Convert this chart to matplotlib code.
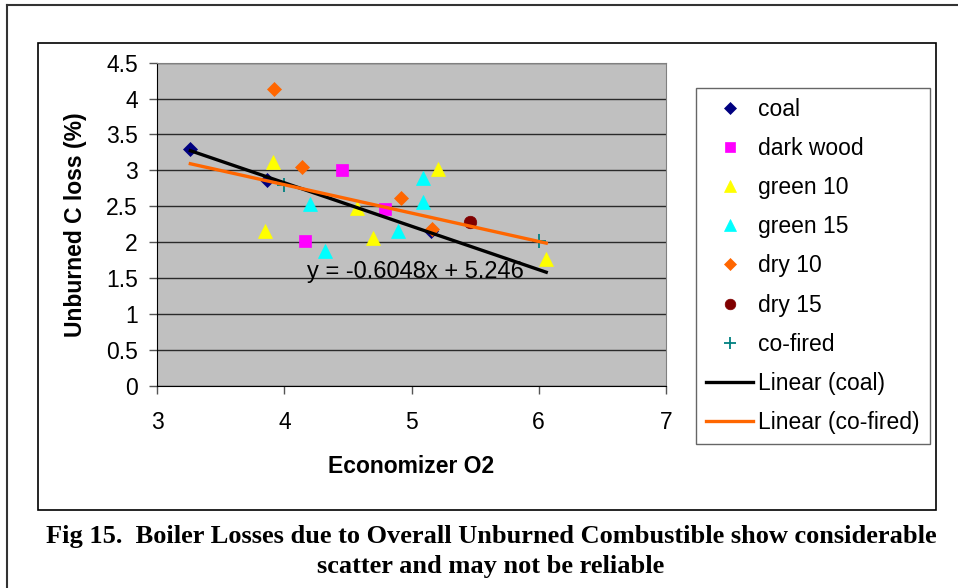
import numpy as np
import matplotlib
matplotlib.use("Agg")
import matplotlib.pyplot as plt
from matplotlib.patches import Rectangle
from matplotlib.lines import Line2D

# Measurements: economizer O2 vs unburned carbon loss (%)
coal_x = [3.26, 3.86, 5.15]
coal_y = [3.30, 2.87, 2.15]
dark_wood_x = [4.45, 4.16, 4.79]
dark_wood_y = [3.00, 2.02, 2.46]
green10_x = [3.91, 3.85, 4.57, 4.70, 5.21, 6.06]
green10_y = [3.12, 2.16, 2.47, 2.06, 3.02, 1.76]
green15_x = [4.20, 4.32, 4.89, 5.09, 5.09]
green15_y = [2.53, 1.88, 2.15, 2.89, 2.56]
dry10_x = [3.92, 4.14, 4.92, 5.16]
dry10_y = [4.14, 3.05, 2.62, 2.18]
dry15_x = [5.46]
dry15_y = [2.28]
cofired_x = [4.00, 6.00]
cofired_y = [2.80, 2.01]

# Linear fit for coal, as given by the equation label
coal_slope, coal_intercept = -0.6048, 5.246
trend_x = np.array([3.26, 6.06])

x_ticks = [3, 4, 5, 6, 7]
y_ticks = [0, 0.5, 1, 1.5, 2, 2.5, 3, 3.5, 4, 4.5]

SANS = "Liberation Sans"
SERIF = "Liberation Serif"
FS = 16.5

W, H = 958, 588
fig = plt.figure(figsize=(W / 100, H / 100), dpi=100)
fig.patch.set_facecolor("white")


def fx(px):
    return px / W


def fy(py):
    return (H - py) / H


# page frame (top and left edges) and chart box
fig.add_artist(Line2D([fx(7), fx(958)], [fy(5), fy(5)], color="#333333", lw=1.5))
fig.add_artist(Line2D([fx(7), fx(7)], [fy(5), fy(588)], color="#333333", lw=1.5))
fig.add_artist(Rectangle((fx(38), fy(510)), fx(936) - fx(38), fy(43) - fy(510),
                         fill=False, edgecolor="black", lw=1.2))

ax = fig.add_axes([fx(157.3), fy(385.7), fx(665.7) - fx(157.3), fy(62.7) - fy(385.7)])
ax.set_facecolor("#C0C0C0")
ax.set_xlim(3, 7)
ax.set_ylim(0, 4.5)
ax.set_xticks(x_ticks)
ax.set_yticks(y_ticks)
ax.set_xticklabels([f"{v:g}" for v in x_ticks], fontsize=FS, family=SANS)
ax.set_yticklabels([f"{v:g}" for v in y_ticks], fontsize=FS, family=SANS)
ax.tick_params(axis="y", direction="out", length=6, width=1, color="#555555", pad=8)
ax.tick_params(axis="x", direction="out", length=6, width=1, color="#555555", pad=12)
for s in ("top", "right"):
    ax.spines[s].set_color("#808080")
for s in ("left", "bottom"):
    ax.spines[s].set_color("black")
ax.grid(axis="y", color="#2a2a2a", lw=1)
ax.set_axisbelow(True)

ax.set_xlabel("Economizer O2", fontsize=FS, family=SANS, fontweight="bold", labelpad=15)
ax.set_ylabel("Unburned C loss (%)", fontsize=FS, family=SANS, fontweight="bold", labelpad=14)

series = [
    (coal_x, coal_y, "coal", "D", "#000080", 7.4),
    (dark_wood_x, dark_wood_y, "dark wood", "s", "#FF00FF", 8.6),
    (green10_x, green10_y, "green 10", "^", "#FFFF00", 9.4),
    (green15_x, green15_y, "green 15", "^", "#00FFFF", 9.4),
    (dry10_x, dry10_y, "dry 10", "D", "#FF6600", 7.4),
    (dry15_x, dry15_y, "dry 15", "o", "#800000", 9.0),
]
handles = []
for xs, ys, name, mk, col, ms in series:
    h, = ax.plot(xs, ys, linestyle="none", marker=mk, color=col, markersize=ms,
                 markeredgewidth=0.5, markeredgecolor=col, label=name, zorder=3)
    handles.append(h)
h, = ax.plot(cofired_x, cofired_y, linestyle="none", marker="+", color="#008080",
             markersize=10, markeredgewidth=1.3, label="co-fired", zorder=3)
handles.append(h)

# trend lines
h, = ax.plot(trend_x, coal_slope * trend_x + coal_intercept, color="black", lw=2.4,
             label="Linear (coal)", zorder=4)
handles.append(h)
cf_slope, cf_intercept = np.polyfit(cofired_x, cofired_y, 1)
h, = ax.plot(trend_x, cf_slope * trend_x + cf_intercept, color="#FF6600", lw=2.4,
             label="Linear (co-fired)", zorder=5)
handles.append(h)

ax.text(4.18, 1.585, f"y = {coal_slope:.4f}x + {coal_intercept:.3f}", fontsize=17,
        family=SANS, ha="left", va="center", zorder=6)

leg = fig.legend(handles=handles, loc="upper left",
                 bbox_to_anchor=(fx(696), fy(88)), frameon=True, fancybox=False,
                 prop={"family": SANS, "size": FS}, labelspacing=0.70,
                 handlelength=2.05, handletextpad=0.2, borderpad=0.45,
                 borderaxespad=0, markerscale=0.85)
leg.get_frame().set_edgecolor("#404040")
leg.get_frame().set_linewidth(1)

fig.text(fx(491), fy(537),
         "Fig 15.  Boiler Losses due to Overall Unburned Combustible show considerable",
         ha="center", va="center", fontsize=19, family=SERIF, fontweight="bold")
fig.text(fx(491), fy(567), "scatter and may not be reliable",
         ha="center", va="center", fontsize=19, family=SERIF, fontweight="bold")

fig.savefig("out.png", dpi=100)
